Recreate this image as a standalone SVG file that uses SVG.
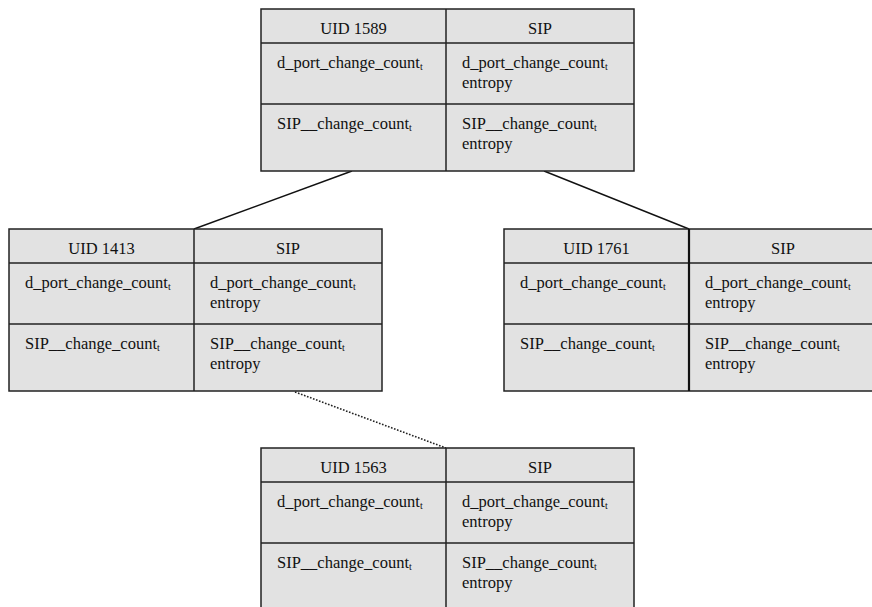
<svg xmlns="http://www.w3.org/2000/svg" width="872" height="607" viewBox="0 0 872 607" font-family="'Liberation Serif', 'Times New Roman', Tinos, 'DejaVu Serif', serif">
  <style>
    .cell { fill: #e2e2e2; stroke: #222; stroke-width: 1.5; }
    .rule { stroke: #222; stroke-width: 1.5; fill: none; }
    .link { stroke: #111; stroke-width: 1.4; fill: none; }
    .dotted { stroke: #222; stroke-width: 1.6; stroke-dasharray: 1.6 1.6; fill: none; }
    .t { font-family: 'Liberation Serif', 'Times New Roman', serif; font-size: 16.5px; fill: #111; }
    .hd { text-anchor: middle; }
    .sub { font-size: 10px; }
  </style>
  <defs>
    <!-- one node table: origin at top-left corner, left column 185 wide -->
    <g id="table">
      <rect class="cell" x="0" y="0" width="373" height="162"/>
      <line class="rule" x1="0" y1="34" x2="373" y2="34"/>
      <line class="rule" x1="0" y1="95" x2="373" y2="95"/>
      <line class="rule" x1="185" y1="0" x2="185" y2="162"/>
      <text class="t hd" x="279" y="25">SIP</text>
      <text class="t" x="16" y="59">d_port_change_count<tspan class="sub" dy="2">t</tspan></text>
      <text class="t" x="201" y="59">d_port_change_count<tspan class="sub" dy="2">t</tspan></text>
      <text class="t" x="201" y="79">entropy</text>
      <text class="t" x="16" y="120">SIP__change_count<tspan class="sub" dy="2">t</tspan></text>
      <text class="t" x="201" y="120">SIP__change_count<tspan class="sub" dy="2">t</tspan></text>
      <text class="t" x="201" y="140">entropy</text>
    </g>
  </defs>

  <g id="connectors">
    <line class="link" x1="352" y1="171" x2="194" y2="229"/>
    <line class="link" x1="544" y1="171" x2="689" y2="229"/>
    <line class="dotted" x1="295" y1="392" x2="446" y2="448"/>
  </g>

  <g id="uid1589" transform="translate(261,9)">
    <use href="#table"/>
    <text class="t hd" x="92.5" y="25">UID 1589</text>
  </g>

  <g id="uid1413" transform="translate(9,229)">
    <use href="#table"/>
    <text class="t hd" x="92.5" y="25">UID 1413</text>
  </g>

  <g id="uid1761" transform="translate(504,229)">
    <use href="#table"/>
    <line x1="185" y1="0" x2="185" y2="162" stroke="#111" stroke-width="2.2"/>
    <text class="t hd" x="92.5" y="25">UID 1761</text>
  </g>

  <g id="uid1563" transform="translate(261,448)">
    <use href="#table"/>
    <text class="t hd" x="92.5" y="25">UID 1563</text>
  </g>
</svg>
